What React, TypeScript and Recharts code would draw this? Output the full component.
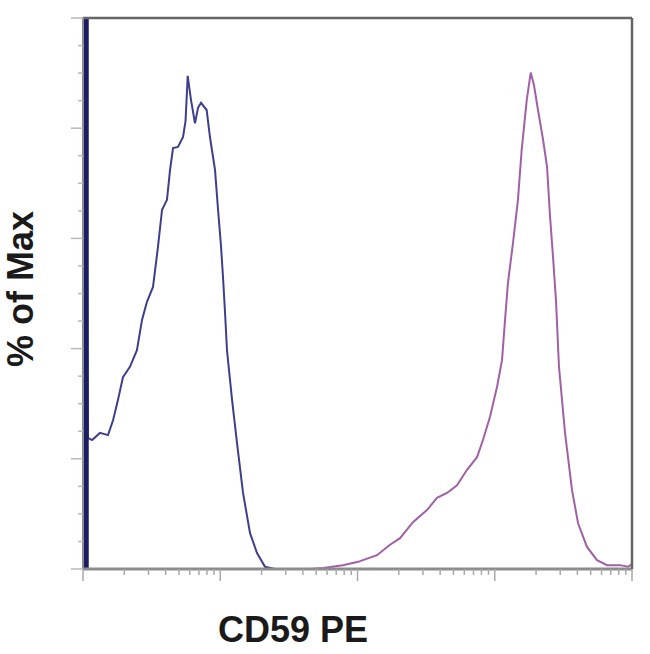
import { LineChart, Line, XAxis, YAxis } from "recharts";

// x is in decades of the log display (1 = left edge, 5 = right edge), y is % of max
const blueX = [
  1.02, 1.02, 1.036, 1.066, 1.124, 1.182, 1.219, 1.255, 1.291, 1.342, 1.393, 1.43, 1.466,
  1.51, 1.546, 1.576, 1.612, 1.634, 1.656, 1.692, 1.729, 1.747, 1.763, 1.787, 1.816, 1.838,
  1.86, 1.901, 1.925, 1.962, 1.984, 2.005, 2.02, 2.035, 2.049, 2.086, 2.122, 2.166, 2.217,
  2.268, 2.326, 2.399, 2.9,
];
const blueY = [
  0, 100, 23.8, 23.4, 24.7, 24.3, 27.0, 30.7, 34.8, 36.7, 39.7, 45.2, 48.5,
  51.2, 58.4, 65.2, 67.0, 72.4, 76.4, 76.6, 78.4, 81.3, 89.5, 85.1, 80.9, 83.7,
  84.6, 83.3, 78.4, 72.4, 65.2, 58.8, 53.0, 46.5, 39.7, 30.7, 22.9, 13.8, 6.5,
  2.9, 0.4, 0, 0,
];

const pinkX = [
  2.654, 2.749, 2.894, 3.004, 3.142, 3.237, 3.31, 3.404, 3.506, 3.579, 3.652, 3.725, 3.798,
  3.871, 3.914, 3.965, 4.016, 4.053, 4.075, 4.096, 4.133, 4.169, 4.196, 4.233, 4.262, 4.286,
  4.315, 4.352, 4.381, 4.403, 4.425, 4.446, 4.468, 4.512, 4.563, 4.607, 4.672, 4.745, 4.818,
  4.913, 4.971, 5.0,
];
const pinkY = [
  0, 0.2, 0.7, 1.3, 2.5, 4.4, 5.6, 8.5, 10.7, 12.9, 13.8, 15.2, 18.0,
  20.3, 23.4, 27.6, 33.0, 37.9, 45.2, 51.9, 59.2, 67.0, 76.0, 85.1, 90.1, 87.8,
  83.3, 77.9, 73.0, 63.9, 56.5, 48.8, 36.7, 24.7, 14.3, 8.3, 4.0, 1.6, 0.7,
  0.7, 0.4, 0.9,
];

const xMajorTicks = [1, 2, 3, 4, 5];
const xMinorSteps = [2, 3, 4, 5, 6, 7, 8, 9];
const yTicks = [0, 5, 10, 15, 20, 25, 30, 35, 40, 45, 50, 55, 60, 65, 70, 75, 80, 85, 90, 95, 100];
const yMajorTicks = [0, 20, 40, 60, 80, 100];

const xTicks = [
  ...xMajorTicks,
  ...xMajorTicks.slice(0, -1).flatMap((d) => xMinorSteps.map((k) => d + Math.log10(k))),
].sort((a, b) => a - b);

const blueData = blueX.map((x, i) => ({ x, y: blueY[i] }));
const blueSpike = blueData.slice(0, 2); // off-scale first bin, drawn heavy
const pinkData = pinkX.map((x, i) => ({ x, y: pinkY[i] }));

const isMajor = (v: number, list: number[]) => list.some((m) => Math.abs(m - v) < 1e-6);

const XTick = (props: any) => {
  const { x, y, payload } = props;
  const len = isMajor(payload.value, xMajorTicks) ? 12 : 6;
  return <line x1={x} x2={x} y1={y} y2={y + len} stroke="#a8a8a8" strokeWidth={1.5} />;
};

const YTick = (props: any) => {
  const { x, y, payload } = props;
  const len = isMajor(payload.value, yMajorTicks) ? 12 : 5;
  return <line x1={x} x2={x - len} y1={y} y2={y} stroke="#b8b8b8" strokeWidth={1.5} />;
};

const labelFont = {
  fontFamily: "Liberation Sans, Arial, sans-serif",
  fontSize: 36,
  fontWeight: 700,
  color: "#1a1a1a",
};

export default function App() {
  return (
    <div style={{ position: "absolute", left: 0, top: 0, width: 650, height: 654, background: "#fff" }}>
      <LineChart
        width={650}
        height={654}
        margin={{ top: 16, right: 16, left: 81, bottom: 83 }}
      >
        <XAxis
          type="number"
          dataKey="x"
          xAxisId="bottom"
          domain={[1, 5]}
          ticks={xTicks}
          interval={0}
          height={2}
          tickSize={0}
          tickMargin={0}
          tick={<XTick />}
          axisLine={{ stroke: "#8c8c8c", strokeWidth: 3 }}
          allowDataOverflow
        />
        <XAxis
          type="number"
          dataKey="x"
          xAxisId="top"
          orientation="top"
          domain={[1, 5]}
          height={2}
          tick={false}
          tickLine={false}
          axisLine={{ stroke: "#666", strokeWidth: 2.5 }}
        />
        <YAxis
          type="number"
          yAxisId="left"
          domain={[0, 100]}
          ticks={yTicks}
          interval={0}
          width={2}
          tickSize={0}
          tickMargin={0}
          tick={<YTick />}
          axisLine={{ stroke: "#8c8c8c", strokeWidth: 2 }}
          allowDataOverflow
        />
        <YAxis
          type="number"
          yAxisId="right"
          orientation="right"
          domain={[0, 100]}
          width={2}
          tick={false}
          tickLine={false}
          axisLine={{ stroke: "#666", strokeWidth: 2.5 }}
        />
        <Line
          xAxisId="bottom"
          yAxisId="left"
          data={blueData}
          dataKey="y"
          type="linear"
          stroke="#3e3e8e"
          strokeWidth={2}
          dot={false}
          isAnimationActive={false}
        />
        <Line
          xAxisId="bottom"
          yAxisId="left"
          data={blueSpike}
          dataKey="y"
          type="linear"
          stroke="#1c1c66"
          strokeWidth={6}
          strokeLinecap="butt"
          dot={false}
          isAnimationActive={false}
        />
        <Line
          xAxisId="bottom"
          yAxisId="left"
          data={pinkData}
          dataKey="y"
          type="linear"
          stroke="#a160a6"
          strokeWidth={2}
          dot={false}
          isAnimationActive={false}
        />
        <Line
          xAxisId="top"
          yAxisId="right"
          data={pinkData}
          dataKey="y"
          stroke="none"
          dot={false}
          legendType="none"
          isAnimationActive={false}
        />
      </LineChart>
      <div
        style={{
          ...labelFont,
          position: "absolute",
          left: 83,
          width: 420,
          top: 610,
          textAlign: "center",
          lineHeight: "40px",
        }}
      >
        CD59 PE
      </div>
      <div
        style={{
          ...labelFont,
          position: "absolute",
          left: 21,
          top: 289,
          whiteSpace: "nowrap",
          lineHeight: "40px",
          transform: "translate(-50%, -50%) rotate(-90deg)",
        }}
      >
        % of Max
      </div>
    </div>
  );
}
